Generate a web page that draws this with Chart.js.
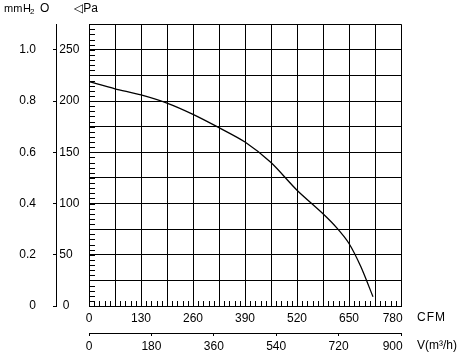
<!DOCTYPE html>
<html>
<head>
<meta charset="utf-8">
<script src="https://cdn.jsdelivr.net/npm/chart.js@4/dist/chart.umd.min.js"></script>
<style>
  html, body { margin: 0; padding: 0; background: #fff; }
</style>
</head>
<body>
<canvas id="chart" width="463" height="352"></canvas>
<script>
// fan curve
const cfm = [0, 65, 130, 195, 260, 325, 390, 455, 520, 585, 620, 650, 680, 710]
const pressurePa = [219, 212, 206, 198, 187, 174, 160, 140, 113, 90, 76, 61, 38, 9]

// axis labels
const cfmTicks = [0, 130, 260, 390, 520, 650, 780]
const paTicks = [0, 50, 100, 150, 200, 250]
const mmH2OTicks = [0, 0.2, 0.4, 0.6, 0.8, 1.0]
const m3hTicks = [0, 180, 360, 540, 720, 900]

const FONT = "'Liberation Sans', 'DejaVu Sans', Arial, sans-serif"
const ink = "#000"

Chart.defaults.font.family = FONT
Chart.defaults.font.size = 12
Chart.defaults.color = ink

const nb = "\u00a0"
const pad = nb.repeat(5) // pushes the last label back inside, like the sheet

// small inward ticks on the left and bottom edges
const minorTicks = {
  id: "minorTicks",
  afterDatasetsDraw(chart) {
    const { ctx, chartArea: a, scales: { x, y } } = chart
    ctx.save()
    ctx.strokeStyle = ink
    ctx.lineWidth = 1
    ctx.beginPath()
    for (let v = y.min; v <= y.max; v += 5) {
      const py = Math.round(y.getPixelForValue(v)) + 0.5
      ctx.moveTo(a.left, py)
      ctx.lineTo(a.left + 6, py)
    }
    for (let v = x.min; v <= x.max; v += 13) {
      const px = Math.round(x.getPixelForValue(v)) + 0.5
      ctx.moveTo(px, a.bottom)
      ctx.lineTo(px, a.bottom - 5)
    }
    ctx.stroke()
    ctx.restore()
  }
}

// unit captions
const captions = {
  id: "captions",
  afterDraw(chart) {
    const { ctx, chartArea: a, scales: { x, x2 } } = chart
    ctx.save()
    ctx.fillStyle = ink
    ctx.textBaseline = "middle"
    // header left
    ctx.font = "11px " + FONT
    ctx.fillText("mm", 4, 9)
    ctx.fillText("H", 23, 9)
    ctx.font = "8px " + FONT
    ctx.fillText("2", 30, 12)
    ctx.font = "12px " + FONT
    ctx.fillText("O", 40, 9)
    ctx.fillText("\u25C1Pa", 74, 9)
    // right side units
    const lx = a.right + 16
    ctx.letterSpacing = "1px"
    ctx.fillText("CFM", lx, x.top + 12)
    ctx.letterSpacing = "0px"
    ctx.fillText("V(m\u00B3/h)", lx, x2.top + 13)
    ctx.restore()
  }
}

const ctx = document.getElementById("chart").getContext("2d")

new Chart(ctx, {
  type: "line",
  data: {
    datasets: [{
      data: cfm.map((v, i) => ({ x: v, y: pressurePa[i] })),
      borderColor: ink,
      borderWidth: 1.3,
      pointRadius: 0,
      tension: 0.25,
      fill: false
    }]
  },
  options: {
    responsive: false,
    animation: false,
    layout: { padding: { top: 22, right: 62, left: 0, bottom: 0 } },
    plugins: {
      legend: { display: false },
      tooltip: { enabled: false }
    },
    scales: {
      x: {
        type: "linear",
        position: "bottom",
        min: 0,
        max: 780,
        grid: { color: ink, lineWidth: 1, drawTicks: false },
        border: { color: ink, width: 1 },
        ticks: {
          stepSize: 65,
          autoSkip: false,
          maxRotation: 0,
          padding: 5,
          callback: v => {
            if (!cfmTicks.includes(v)) return ""
            return v === cfmTicks[cfmTicks.length - 1] ? v + pad : String(v)
          }
        },
        afterFit: s => { s.height = 27 }
      },
      x2: {
        type: "linear",
        position: "bottom",
        weight: 1,
        min: 0,
        max: 900,
        grid: { drawOnChartArea: false, color: ink, tickLength: 3 },
        border: { color: ink, width: 1 },
        ticks: {
          autoSkip: false,
          maxRotation: 0,
          padding: 3,
          callback: v => v === m3hTicks[m3hTicks.length - 1] ? v + pad : String(v)
        },
        afterBuildTicks: s => { s.ticks = m3hTicks.map(v => ({ value: v })) },
        afterFit: s => { s.height = 19 }
      },
      y: {
        type: "linear",
        position: "left",
        min: 0,
        max: 275,
        grid: { color: ink, lineWidth: 1, drawTicks: false },
        border: { color: ink, width: 1 },
        ticks: {
          stepSize: 25,
          autoSkip: false,
          crossAlign: "far",
          // leading gap off the mmH2O axis line
          callback: v => paTicks.includes(v) ? (v === 0 ? nb + nb + "0" : nb + v) : ""
        },
        afterFit: s => { s.width = 33 }
      },
      y2: {
        type: "linear",
        position: "left",
        weight: 1,
        min: 0,
        max: 1.1,
        grid: { drawOnChartArea: false, color: ink, tickLength: 3 },
        border: { color: ink, width: 1 },
        ticks: {
          autoSkip: false,
          padding: 17,
          callback: v => v === 0 ? "0" : v.toFixed(1)
        },
        afterBuildTicks: s => { s.ticks = mmH2OTicks.map(v => ({ value: v })) },
        afterFit: s => { s.width = 56 }
      }
    }
  },
  plugins: [minorTicks, captions]
})
</script>
</body>
</html>
